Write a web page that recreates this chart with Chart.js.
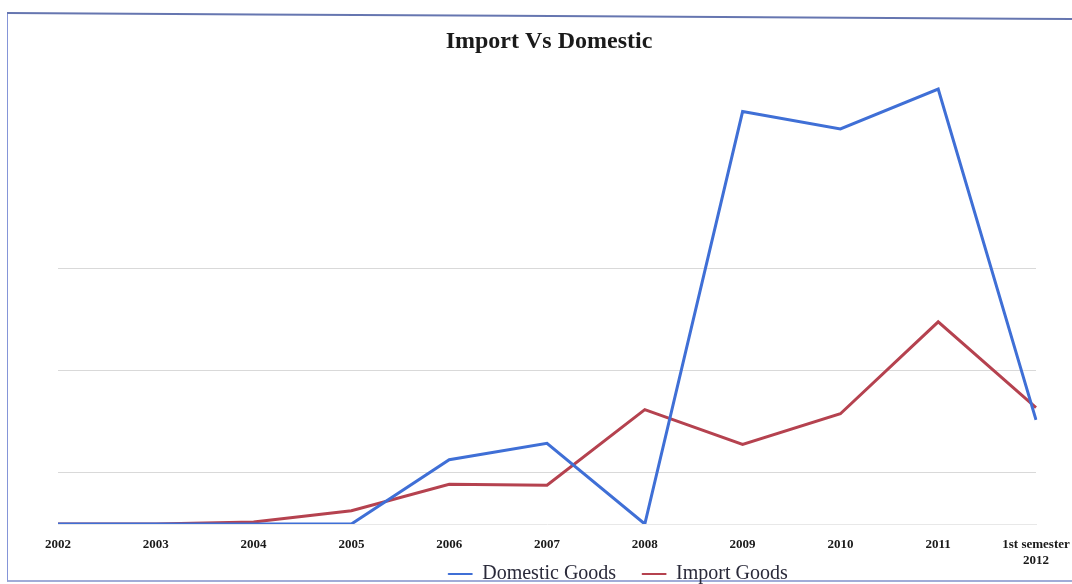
<!DOCTYPE html>
<html>
<head>
<meta charset="utf-8">
<script src="https://cdn.jsdelivr.net/npm/chart.js@4/dist/chart.umd.min.js"></script>
<style>
  html, body { margin: 0; padding: 0; background: #fff; }
  #wrap { position: relative; width: 1072px; height: 584px; overflow: hidden; }
  #frame {
    position: absolute; left: 7px; top: 13px; width: 1100px; height: 567px;
    border-left: 1px solid #8595d8; border-bottom: 2px solid #a0acd8;
  }
  #frameTop {
    position: absolute; left: 7px; top: 12px; width: 1100px; height: 0;
    border-top: 2px solid #6676b0;
    transform: rotate(0.32deg); transform-origin: 0 0;
  }
  canvas { position: absolute; left: 0; top: 0; }
</style>
</head>
<body>
<div id="wrap">
  <div id="frame"></div>
  <div id="frameTop"></div>
  <canvas id="importChart" width="1072" height="584"></canvas>
</div>
<script>
// Years on the x axis (last one is a half-year)
const years = ['2002', '2003', '2004', '2005', '2006', '2007', '2008', '2009', '2010', '2011', ['1st semester', '2012']];
const domesticGoods = [0, 0, 0, 0, 63, 79, 0, 404, 387, 426, 102];
const importGoods = [0, 0, 2, 13, 39, 38, 112, 78, 108, 198, 114];
const gridValues = [50, 150, 250];

const serif = "'Liberation Serif', 'DejaVu Serif', serif";

// Nudges title/legend sideways and lets the x labels hang below the short axis box
const shiftBlocks = {
  id: 'shiftBlocks',
  afterLayout(chart) {
    const lg = chart.legend;
    if (lg) { lg.left += 71; lg.right += 71; }
    const tb = chart.titleBlock;
    if (tb) { tb.left += 2; tb.right += 2; }
    chart.scales.x.bottom = chart.height;
  }
};

document.addEventListener('DOMContentLoaded', () => {
  const ctx = document.getElementById('importChart').getContext('2d');
  const defaultLabels = Chart.defaults.plugins.legend.labels.generateLabels;
  new Chart(ctx, {
    type: 'line',
    data: {
      labels: years,
      datasets: [{
        label: 'Domestic Goods',
        data: domesticGoods,
        borderColor: '#3f6fd6',
        backgroundColor: '#3f6fd6',
        borderWidth: 3,
        pointRadius: 0,
        tension: 0
      }, {
        label: 'Import Goods',
        data: importGoods,
        borderColor: '#b5424f',
        backgroundColor: '#b5424f',
        borderWidth: 3,
        pointRadius: 0,
        tension: 0
      }]
    },
    options: {
      responsive: false,
      animation: false,
      layout: { padding: { left: 58, right: 36, top: 0, bottom: 0 } },
      plugins: {
        title: {
          display: true,
          text: 'Import Vs Domestic',
          color: '#1a1a1a',
          font: { family: serif, size: 24, weight: 'bold' },
          padding: { top: 27, bottom: 19 }
        },
        legend: {
          position: 'bottom',
          maxHeight: 46,
          labels: {
            color: '#2a2a3a',
            font: { family: serif, size: 20 },
            boxWidth: 24,
            boxHeight: 1,
            padding: 26,
            // thin line swatches instead of the thick dataset stroke
            generateLabels(chart) {
              return defaultLabels(chart).map(item => ({ ...item, lineWidth: 1 }));
            }
          }
        },
        tooltip: { enabled: false }
      },
      scales: {
        x: {
          offset: false,
          grid: { display: false, drawTicks: false },
          border: { display: true, color: '#e8e8e8' },
          ticks: {
            color: '#1a1a1a',
            font: { family: serif, size: 13, weight: 'bold' },
            padding: 13,
            maxRotation: 0,
            autoSkip: false
          },
          // labels hang down beside the legend, so keep the axis box short
          afterFit(scale) { scale.paddingLeft = 0; scale.paddingRight = 0; scale.height = 14; }
        },
        y: {
          min: 0,
          max: 440,
          grid: { color: '#d9d9d9', lineWidth: 1, drawTicks: false },
          border: { display: false },
          ticks: { display: false },
          afterBuildTicks(scale) { scale.ticks = gridValues.map(v => ({ value: v })); },
          afterFit(scale) { scale.width = 0; }
        }
      }
    },
    plugins: [shiftBlocks]
  });
});
</script>
</body>
</html>
